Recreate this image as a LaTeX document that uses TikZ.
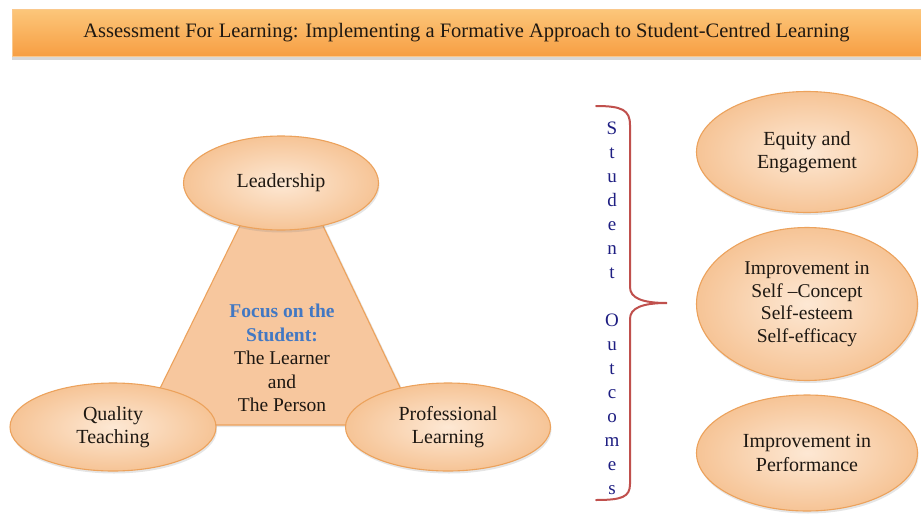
\documentclass[tikz,border=0pt]{standalone}
\usepackage{fontspec}
\setmainfont{Liberation Serif}
\usepackage{tikz}
\usetikzlibrary{shapes.geometric,shadows}

\begin{document}
\begin{tikzpicture}[x=1pt,y=-1pt,thick,
  bubble/.style={ellipse,draw=ellline,line width=1.1pt,inner color=ellin,outer color=ellout,
    inner sep=0pt,align=center,text=inkdark,font=\fontsize{20}{23.5}\selectfont,
    drop shadow={opacity=0.2,shadow xshift=1pt,shadow yshift=-2.5pt}},
  titlebar/.style={rectangle,draw=titleline,line width=0.6pt,top color=titletop,bottom color=titlebot,
    minimum width=909pt,minimum height=47pt,inner sep=0pt,text=inkdark,font=\fontsize{20.5}{22}\selectfont,
    drop shadow={opacity=0.3,shadow xshift=0pt,shadow yshift=-3pt}}]
  \definecolor{ellline}{RGB}{236,162,92}
  \definecolor{ellin}{RGB}{253,232,212}
  \definecolor{ellout}{RGB}{246,196,150}
  \definecolor{trifill}{RGB}{247,199,158}
  \definecolor{titleline}{RGB}{250,200,140}
  \definecolor{titletop}{RGB}{252,198,122}
  \definecolor{titlebot}{RGB}{247,158,66}
  \definecolor{inkdark}{RGB}{30,24,18}
  \definecolor{focusblue}{RGB}{66,120,195}
  \definecolor{letterblue}{RGB}{30,30,130}
  \definecolor{bracered}{RGB}{192,80,77}

  \useasboundingbox[fill=white] (0,0) rectangle (921,514);

  % title
  \node[titlebar] (title) at (466.5,33)
    {Assessment For Learning: Implementing a Formative Approach to Student-Centred Learning};

  % triangle behind the three bubbles
  \fill[trifill,draw=ellline,line width=1.1pt,drop shadow={opacity=0.2,shadow yshift=-2pt}]
    (282,140) -- (418,425) -- (142,425) -- cycle;
  \node[align=center,text=inkdark,font=\fontsize{19.5}{23.5}\selectfont] (focus) at (282,358)
    {\textcolor{focusblue}{\textbf{Focus on the}}\\\textcolor{focusblue}{\textbf{Student:}}\\The Learner\\and\\The Person};

  \node[bubble,minimum width=195pt,minimum height=94pt] (lead) at (281,183) {Leadership};
  \node[bubble,minimum width=206pt,minimum height=88pt] (teach) at (113,427) {Quality\\Teaching};
  \node[bubble,minimum width=205pt,minimum height=88pt] (prof) at (448,427) {Professional\\Learning};

  % brace and its letters
  \draw[bracered,line width=2pt,line cap=round]
    (596,106) .. controls (622,106) and (630,110) .. (630,125) -- (630,287)
    .. controls (630,298) and (642,303) .. (667,303)
    .. controls (642,303) and (630,308) .. (630,319) -- (630,484)
    .. controls (630,497) and (622,500) .. (596,500);
  \node[align=center,text=letterblue,font=\fontsize{19}{24}\selectfont] (outcomes) at (612,308)
    {S\\t\\u\\d\\e\\n\\t\\[24pt]O\\u\\t\\c\\o\\m\\e\\s};

  \node[bubble,minimum width=221pt,minimum height=121pt] (equity) at (807,152) {Equity and\\Engagement};
  \node[bubble,minimum width=221pt,minimum height=153pt,font=\fontsize{19.5}{22.5}\selectfont] (self) at (807,304)
    {Improvement in\\Self –Concept\\Self-esteem\\Self-efficacy};
  \node[bubble,minimum width=221pt,minimum height=116pt] (perf) at (807,453) {Improvement in\\Performance};
\end{tikzpicture}
\end{document}
